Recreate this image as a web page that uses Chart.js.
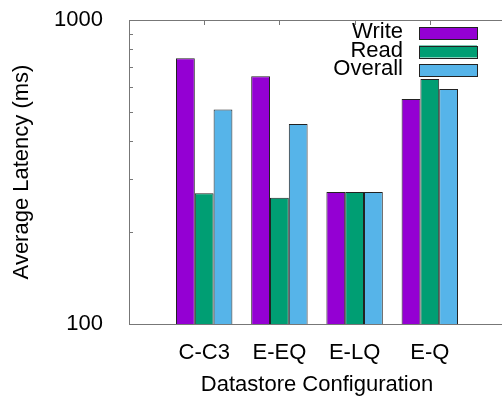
<!DOCTYPE html>
<html>
<head>
<meta charset="utf-8">
<script src="https://cdn.jsdelivr.net/npm/chart.js@4/dist/chart.umd.min.js"></script>
<style>
  html, body { margin: 0; padding: 0; background: #fff; overflow: hidden; }
  canvas { display: block; }
</style>
</head>
<body>
<canvas id="latency-chart" width="505" height="401"></canvas>
<script>
// datastore configurations on the x axis
const categories = ['C-C3', 'E-EQ', 'E-LQ', 'E-Q'];
// average latency in ms
const writeLatency = [748, 653, 272, 550];
const readLatency = [269, 260, 272, 640];
const overallLatency = [508, 455, 272, 593];
// log axis: labelled decades and unlabelled minor ticks
const yTickLabels = [100, 1000];
const yMinorTicks = [200, 300, 400, 500, 600, 700, 800, 900];

const FONT = 'Liberation Sans, Arial, sans-serif';
const AXIS_COLOR = '#777';

// inward tick marks and the frame, gnuplot style
const framePlugin = {
  id: 'frame',
  beforeDatasetsDraw(chart) {
    const { ctx, chartArea: a, scales: { x, y } } = chart;
    ctx.save();
    ctx.strokeStyle = AXIS_COLOR;
    ctx.lineWidth = 1;
    ctx.beginPath();
    ctx.moveTo(a.left + 0.5, a.top + 0.5);
    ctx.lineTo(a.left + 0.5, a.bottom + 0.5);
    ctx.lineTo(a.right, a.bottom + 0.5);
    ctx.moveTo(a.left + 0.5, a.top + 0.5);
    ctx.lineTo(a.right, a.top + 0.5);
    // y ticks (major on decades, minor in between)
    y.ticks.forEach(t => {
      const py = Math.round(y.getPixelForValue(t.value)) + 0.5;
      const len = yTickLabels.includes(t.value) ? 8 : 4;
      ctx.moveTo(a.left, py);
      ctx.lineTo(a.left + len, py);
    });
    // x ticks, bottom and mirrored on top
    categories.forEach((c, i) => {
      const px = Math.round(x.getPixelForValue(i)) + 0.5;
      ctx.moveTo(px, a.bottom);
      ctx.lineTo(px, a.bottom - 5);
      ctx.moveTo(px, a.top);
      ctx.lineTo(px, a.top + 5);
    });
    ctx.stroke();
    ctx.restore();
  }
};

// key in the top right: label text first, then the sample box
const keyPlugin = {
  id: 'key',
  afterDatasetsDraw(chart) {
    const { ctx } = chart;
    const textRight = 403, boxLeft = 419, boxW = 58, boxH = 12, top = 33, step = 18.5;
    ctx.save();
    ctx.font = '22px ' + FONT;
    ctx.textAlign = 'right';
    ctx.textBaseline = 'middle';
    chart.data.datasets.forEach((ds, i) => {
      const cy = top + i * step;
      ctx.fillStyle = '#000';
      ctx.fillText(ds.label, textRight, cy - 1);
      ctx.fillStyle = ds.backgroundColor;
      ctx.fillRect(boxLeft, cy - boxH / 2, boxW, boxH);
      ctx.strokeStyle = '#222';
      ctx.lineWidth = 1;
      ctx.strokeRect(boxLeft + 0.5, Math.round(cy - boxH / 2) + 0.5, boxW, boxH);
    });
    ctx.restore();
  }
};

const toPoints = arr => arr.map((v, i) => ({ x: i, y: v }));

new Chart(document.getElementById('latency-chart'), {
  type: 'bar',
  data: {
    datasets: [
      { label: 'Write', data: toPoints(writeLatency), backgroundColor: '#9400d3' },
      { label: 'Read', data: toPoints(readLatency), backgroundColor: '#009e73' },
      { label: 'Overall', data: toPoints(overallLatency), backgroundColor: '#56b4e9' }
    ]
  },
  options: {
    responsive: false,
    animation: false,
    devicePixelRatio: 1,
    layout: { padding: { top: 20, left: 0, right: 0, bottom: 0 } },
    datasets: {
      bar: {
        borderColor: '#222',
        borderWidth: 1,
        categoryPercentage: 0.75,
        barPercentage: 1
      }
    },
    plugins: {
      legend: { display: false },
      tooltip: { enabled: false }
    },
    scales: {
      x: {
        type: 'linear',
        min: -1,
        max: 4,
        offset: false,
        grid: { display: false },
        border: { display: false },
        afterFit: s => {
          s.height = 77;
          s.paddingLeft = 0;
          s.paddingRight = 0;
        },
        afterBuildTicks: s => {
          s.ticks = [-1, 0, 1, 2, 3, 4].map(v => ({ value: v }));
        },
        ticks: {
          autoSkip: false,
          maxRotation: 0,
          padding: 8,
          color: '#000',
          font: { family: FONT, size: 22 },
          callback: v => categories[v] ?? ''
        },
        title: {
          display: true,
          text: 'Datastore Configuration',
          color: '#000',
          font: { family: FONT, size: 22 },
          padding: { top: 0, bottom: 3 }
        }
      },
      y: {
        type: 'logarithmic',
        min: 100,
        max: 1000,
        grid: { display: false },
        border: { display: false },
        afterFit: s => {
          s.width = 129;
          s.paddingTop = 0;
          s.paddingBottom = 0;
        },
        afterBuildTicks: s => {
          s.ticks = yTickLabels.concat(yMinorTicks).sort((a, b) => a - b).map(v => ({ value: v }));
        },
        ticks: {
          autoSkip: false,
          padding: 18,
          color: '#000',
          font: { family: FONT, size: 22 },
          callback: v => yTickLabels.includes(v) ? String(v) : ''
        },
        title: {
          display: true,
          text: 'Average Latency (ms)',
          color: '#000',
          font: { family: FONT, size: 22 },
          padding: { top: 9, bottom: 0 }
        }
      }
    }
  },
  plugins: [framePlugin, keyPlugin]
});
</script>
</body>
</html>
